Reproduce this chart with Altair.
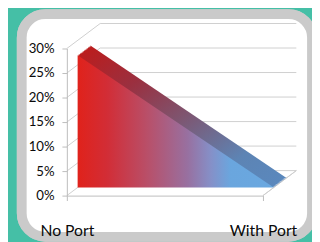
import altair as alt
import pandas as pd

# ---- data ----
categories = ["No Port", "With Port"]
values = [0.27, 0.0]
tick_values = [0.0, 0.05, 0.10, 0.15, 0.20, 0.25, 0.30]

df = pd.DataFrame({"cat": categories, "val": values})
ticks = pd.DataFrame({"v": tick_values})

W, H = 200, 150
DX, DY = 34, -25.5          # depth of the 3-D walls (pixels)
F_DX, F_DY = 11, -8.25      # front face of the area
B_DX, B_DY = 24, -18        # back face of the area

GRID = "#cfcfcf"

xscale = alt.Scale(type="point", domain=categories, padding=0)
yscale = alt.Scale(domain=[0, 0.30])

AX_X = alt.Axis(
    title=None, labelAngle=0, labelAlign="center", labelBaseline="top",
    labelFlush=False, labelBound=False,
    labelFont="Lato", labelFontSize=16, labelOverlap=False,
    labelColor="#0a0a0a", labelPadding=23, tickSize=5, tickColor="#bdbdbd",
    domainColor="#bdbdbd", grid=False, zindex=1,
)
AX_Y = alt.Axis(
    title=None, values=tick_values, format=".0%", labelFont="Lato",
    labelFontSize=13.5, labelColor="#0a0a0a", labelPadding=8, tickSize=5,
    labelOverlap=False, labelFlush=False, labelBound=False,
    tickColor="#bdbdbd", domainColor="#bdbdbd", grid=False, zindex=1,
)

front_grad = alt.LinearGradient(
    gradient="linear", x1=0, x2=1, y1=0, y2=0,
    stops=[
        alt.GradientStop(color="#e0221b", offset=0.0),
        alt.GradientStop(color="#d22d36", offset=0.15),
        alt.GradientStop(color="#b8506a", offset=0.36),
        alt.GradientStop(color="#9870a0", offset=0.56),
        alt.GradientStop(color="#8590c8", offset=0.68),
        alt.GradientStop(color="#6aa6de", offset=0.78),
        alt.GradientStop(color="#6aa8e0", offset=1.0),
    ],
)
top_grad = alt.LinearGradient(
    gradient="linear", x1=0, x2=1, y1=0, y2=0,
    stops=[
        alt.GradientStop(color="#bb1d1d", offset=0.0),
        alt.GradientStop(color="#9a3040", offset=0.25),
        alt.GradientStop(color="#7e5570", offset=0.5),
        alt.GradientStop(color="#5d84b4", offset=0.8),
        alt.GradientStop(color="#5a88bd", offset=1.0),
    ],
)

base = alt.Chart(df)

# axes carrier (invisible), first so its axis definitions win
axes = base.mark_point(opacity=0).encode(
    x=alt.X("cat:N", scale=xscale, sort=categories, axis=AX_X),
    y=alt.Y("val:Q", scale=yscale, axis=AX_Y),
)

# white rounded card with grey border (decoration)
card = alt.Chart(df).mark_rect(
    fill="white", stroke="#cacaca", strokeWidth=10, cornerRadius=24
).encode(
    x=alt.value(-46), x2=alt.value(W + 50), y=alt.value(-35), y2=alt.value(H + 42)
)

# back-wall gridlines
back_grid = alt.Chart(ticks).mark_rule(
    color=GRID, strokeWidth=1, xOffset=DX, x2Offset=DX, yOffset=DY
).encode(
    x=alt.datum("No Port", scale=xscale, axis=AX_X),
    x2=alt.datum("With Port"),
    y=alt.Y("v:Q", scale=yscale, axis=AX_Y),
)

# left-wall gridlines (diagonals)
left_grid = alt.Chart(ticks).mark_rule(
    color=GRID, strokeWidth=1, x2Offset=DX, y2Offset=DY
).encode(
    x=alt.datum("No Port", scale=xscale, axis=AX_X),
    x2=alt.datum("No Port"),
    y=alt.Y("v:Q", scale=yscale, axis=AX_Y),
    y2=alt.Y2("v:Q"),
)

# right floor edge
floor_edge = alt.Chart(df).mark_rule(
    color=GRID, strokeWidth=1, x2Offset=DX, y2Offset=DY
).encode(
    x=alt.datum("With Port", scale=xscale, axis=AX_X),
    x2=alt.datum("With Port"),
    y=alt.datum(0, scale=yscale, axis=AX_Y),
    y2=alt.datum(0),
)

# extruded area: several offset copies for the top face, then the front face
N = 16
layers = []
for i in range(N, 0, -1):
    t = i / N
    ox = F_DX + (B_DX - F_DX) * t
    oy = F_DY + (B_DY - F_DY) * t
    layers.append(
        base.mark_area(
            fill=top_grad, xOffset=ox, yOffset=oy, y2Offset=oy, interpolate="linear"
        ).encode(
            x=alt.X("cat:N", scale=xscale, sort=categories, axis=AX_X),
            y=alt.Y("val:Q", scale=yscale, axis=AX_Y),
        )
    )

front = base.mark_area(
    fill=front_grad, xOffset=F_DX, yOffset=F_DY, y2Offset=F_DY, interpolate="linear"
).encode(
    x=alt.X("cat:N", scale=xscale, sort=categories, axis=AX_X),
    y=alt.Y("val:Q", scale=yscale, axis=AX_Y),
)

chart = alt.layer(axes, card, back_grid, left_grid, floor_edge, *layers, front).properties(
    width=W, height=H,
    background="#45bfa6",
    autosize=alt.AutoSizeParams(type="none"),
    padding={"left": 60, "top": 39, "right": 50, "bottom": 45},
).configure_view(stroke=None)

chart.save("out.html", embed_options={"renderer": "svg", "actions": False})
